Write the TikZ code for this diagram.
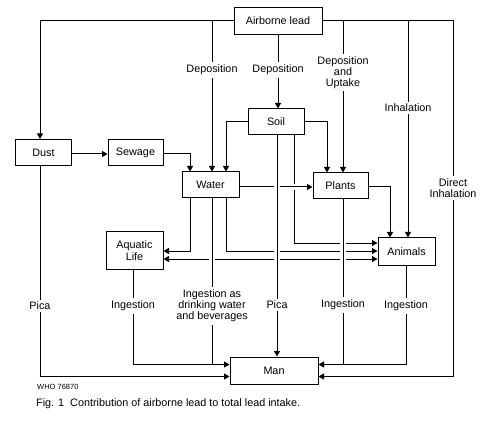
\documentclass[tikz,border=0pt]{standalone}
\usepackage{fontspec}
\setmainfont{Liberation Sans}
\usetikzlibrary{arrows.meta}
\begin{document}
\begin{tikzpicture}[x=1bp,y=-1bp,
  font=\fontsize{10.8bp}{12bp}\selectfont,
  box/.style={draw, line width=1bp, inner sep=0pt, align=center},
  ln/.style={line width=1bp},
  arr/.style={ln, -{Triangle[length=5.5bp,width=6bp]}},
  darr/.style={ln, {Triangle[length=5.5bp,width=6bp]}-{Triangle[length=5.5bp,width=6bp]}},
  over/.style={preaction={draw=white, line width=5.5bp, -, shorten <=2.5bp, shorten >=2.5bp}},
  lbl/.style={fill=white, inner xsep=1bp, inner ysep=2.5bp, align=center, font=\fontsize{10.8bp}{11bp}\selectfont}]
\path[use as bounding box, fill=white] (0,0) rectangle (500,437);

% boxes
\node[box, minimum width=88bp, minimum height=27bp] (air) at (278,21) {Airborne lead};
\node[box, minimum width=56bp, minimum height=26bp] (dust) at (43.5,152.5) {Dust};
\node[box, minimum width=55bp, minimum height=26bp] (sewage) at (135.5,153) {Sewage};
\node[box, minimum width=57bp, minimum height=26bp] (water) at (210.5,185) {Water};
\node[box, minimum width=56bp, minimum height=26bp] (soil) at (276,122) {Soil};
\node[box, minimum width=55bp, minimum height=26bp] (plants) at (340.5,186) {Plants};
\node[box, minimum width=57bp, minimum height=37bp, font=\fontsize{10.8bp}{12.5bp}\selectfont] (aquatic) at (134.5,250.5) {Aquatic\\Life};
\node[box, minimum width=57bp, minimum height=27bp] (animals) at (406.5,251.5) {Animals};
\node[box, minimum width=88bp, minimum height=27bp] (man) at (274,370.5) {Man};

% junction points on the top line
\coordinate (jdep) at (212,21);
\coordinate (jupt) at (343,21);
\coordinate (jinh) at (408,21);

% lines that pass under others
\draw[arr] (air.west) -| (dust.north -| 40,0);
\draw[arr] (jdep) -- (water.north -| jdep);
\draw[arr] (air.south -| 278,0) -- (soil.north -| 278,0);
\draw[arr] (air.east) -| (453,376.5) -- (man.east |- 0,376.5);
\draw[arr] (jupt) -- (plants.north -| jupt);
\draw[arr] (jinh) -- (animals.north -| jinh);
\draw[arr] (dust.east |- 0,154) -- (sewage.west |- 0,154);
\draw[arr] (sewage.east |- 0,154) -| (water.north -| 190,0);
\draw[arr] (soil.west) -| (water.north -| 226,0);
\draw[arr] (soil.east) -| (plants.north -| 327,0);
\draw[arr] (soil.south -| 294,0) |- (animals.west |- 0,243);
\draw[arr] (plants.east |- 0,187) -| (animals.north -| 390,0);
\draw[arr] (water.south -| 190,0) |- (aquatic.east |- 0,251);
\draw[arr] (water.south -| 226,0) |- (animals.west |- 0,251);
\draw[darr] (aquatic.east |- 0,259) -- (animals.west |- 0,259);
\draw[arr] (dust.south -| 40,0) |- (man.west |- 0,376.5);
\draw[arr] (aquatic.south -| 133,0) |- (man.west |- 0,364.5);

% lines that pass over others
\draw[arr, over] (water.east |- 0,187) -- (plants.west |- 0,187);
\draw[arr, over] (soil.south -| 277,0) -- (man.north -| 277,0);
\draw[ln, over] (water.south -| 212,0) -- (212,364.5);
\draw[ln, over] (plants.south -| 343,0) -- (343,364.5);
\draw[arr] (animals.south -| 406,0) |- (man.east |- 0,364.5);

% labels
\node[lbl] (l1) at (212,70) {Deposition};
\node[lbl] (l2) at (278,70) {Deposition};
\node[lbl] (l3) at (343,72.5) {Deposition\\and\\Uptake};
\node[lbl] (l4) at (408,108) {Inhalation};
\node[lbl] (l5) at (453,188) {Direct\\Inhalation};
\node[lbl] (l6) at (40,306) {Pica};
\node[lbl] (l7) at (133,306) {Ingestion};
\node[lbl] (l8) at (212,306) {Ingestion as\\drinking water\\and beverages};
\node[lbl] (l9) at (277,305) {Pica};
\node[lbl] (l10) at (343,305) {Ingestion};
\node[lbl] (l11) at (406,306) {Ingestion};

% captions
\node[anchor=west, inner sep=0pt, font=\fontsize{7.5bp}{8bp}\selectfont] (who) at (37,387) {WHO 76870};
\node[anchor=west, inner sep=0pt] (cap) at (36,404) {Fig. 1\ \ Contribution of airborne lead to total lead intake.};
\end{tikzpicture}
\end{document}
